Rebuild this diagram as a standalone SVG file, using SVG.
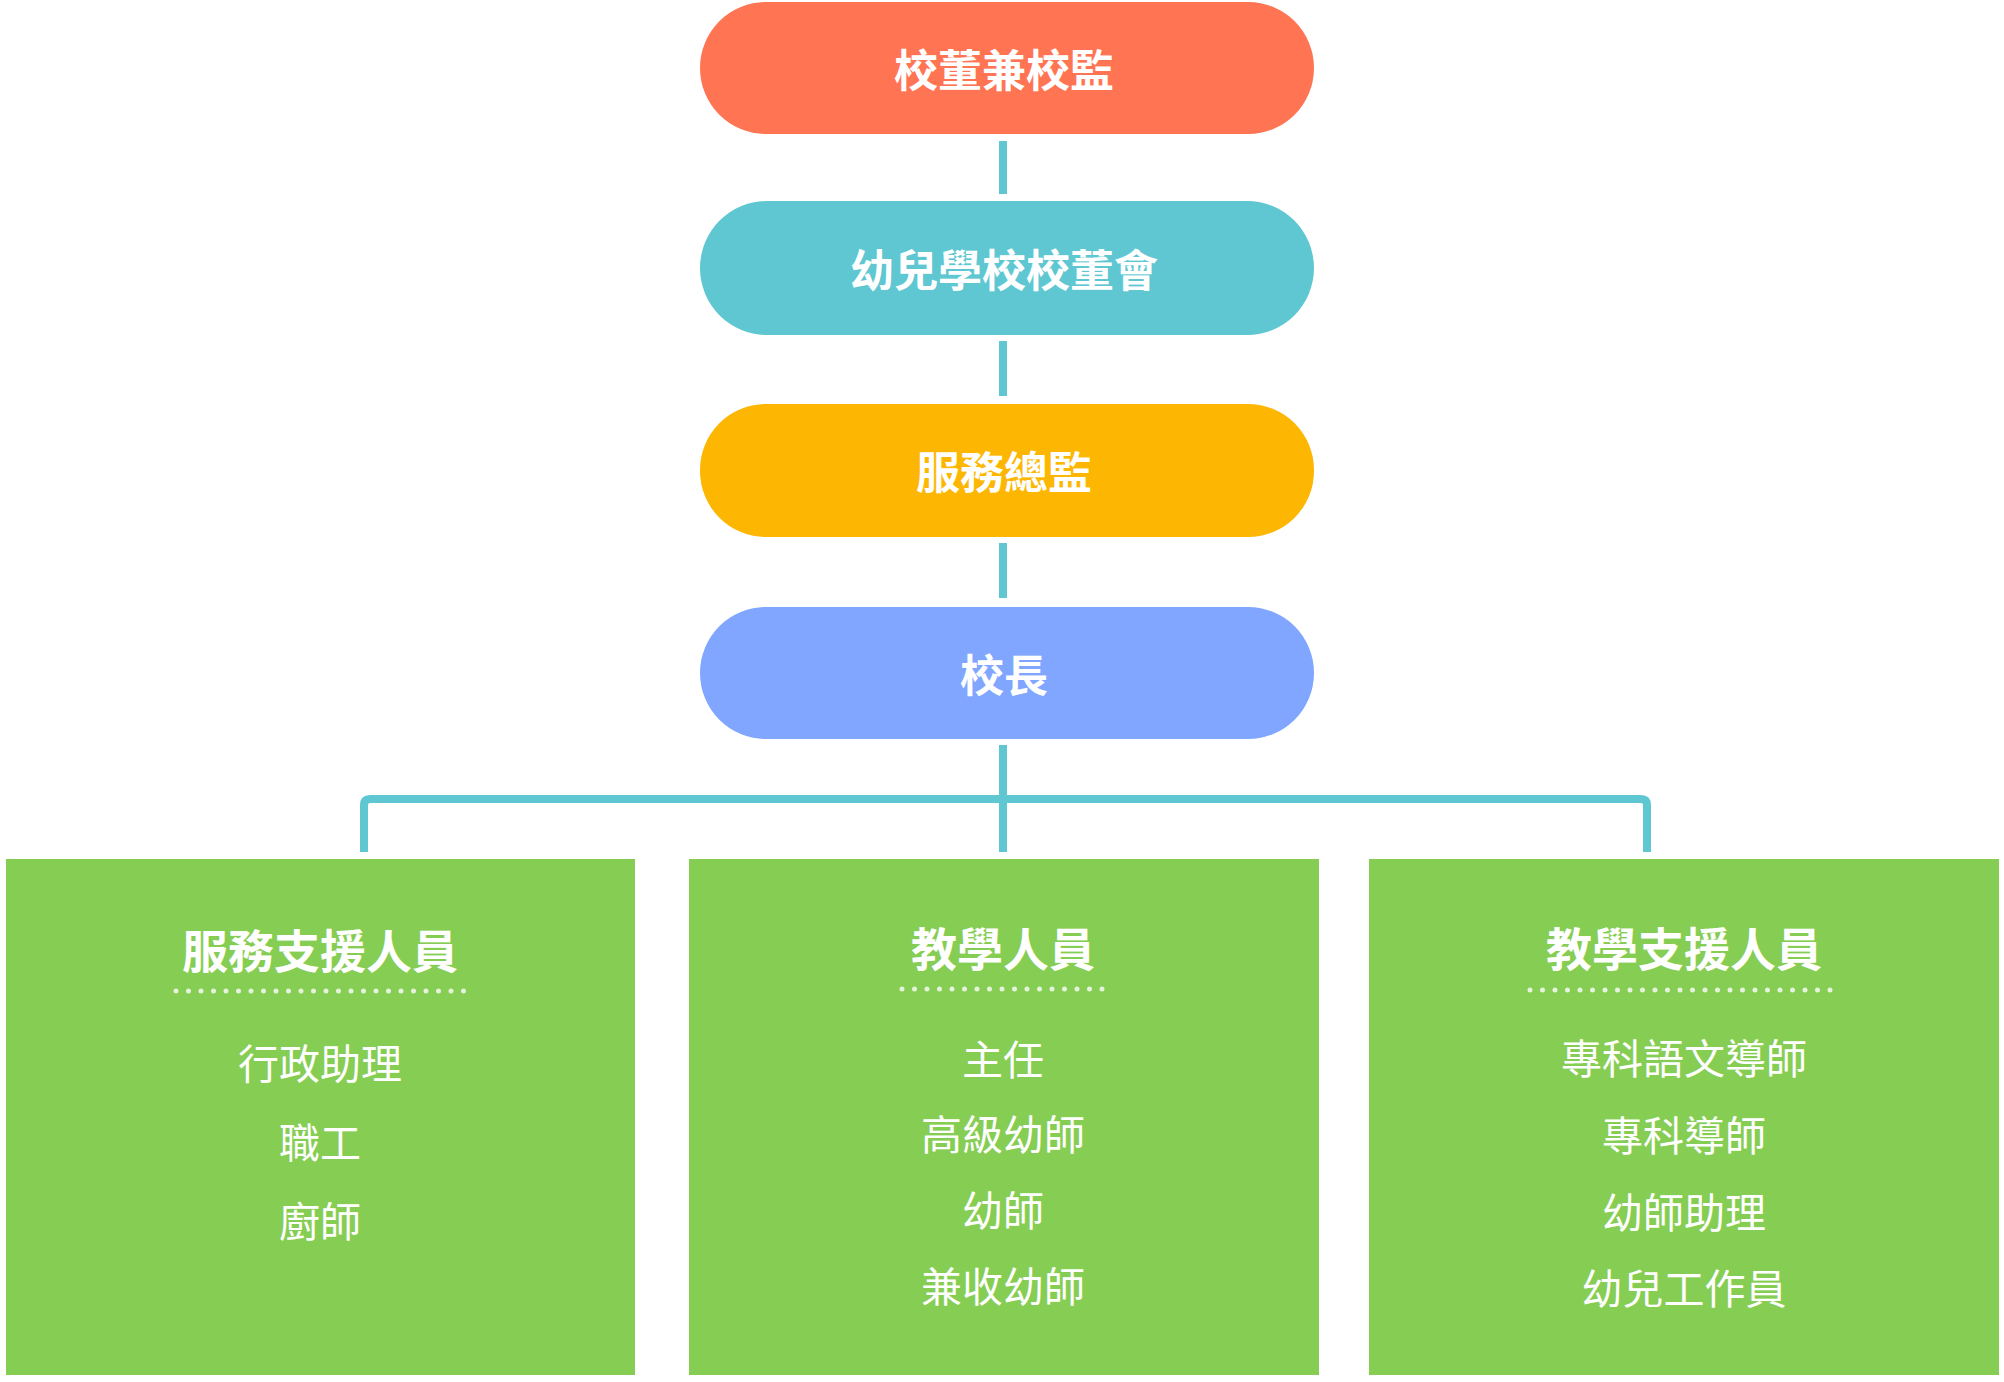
<svg xmlns="http://www.w3.org/2000/svg" width="2004" height="1382" viewBox="0 0 2004 1382">
<style>
.pt{font-family:"Noto Sans CJK TC","Noto Sans CJK SC",sans-serif;font-weight:700;font-size:44px;fill:#fff;text-anchor:middle;dominant-baseline:central}
.hd{font-family:"Noto Sans CJK TC","Noto Sans CJK SC",sans-serif;font-weight:700;font-size:46px;fill:#fff;text-anchor:middle;dominant-baseline:central}
.it{font-family:"Noto Sans CJK TC","Noto Sans CJK SC",sans-serif;font-weight:400;font-size:41px;fill:#fff;text-anchor:middle;dominant-baseline:central}
.c{stroke:#5EC7D2;stroke-width:8;fill:none}
.dot{stroke:#e6f3dc;stroke-width:5;stroke-linecap:round;stroke-dasharray:0 12.5}
.box{fill:#86CD53}
</style>
<rect width="2004" height="1382" fill="#fff"/>
<g id="connectors">
<line class="c" x1="1003" y1="141" x2="1003" y2="194"/>
<line class="c" x1="1003" y1="341" x2="1003" y2="396"/>
<line class="c" x1="1003" y1="543" x2="1003" y2="598"/>
<line class="c" x1="1003" y1="745" x2="1003" y2="852"/>
<path class="c" d="M364 852 V805 Q364 799 370 799 H1641 Q1647 799 1647 805 V852"/>
</g>
<g id="n1"><rect x="700" y="2" width="614" height="132" rx="66" fill="#FF7452"/><text class="pt" x="1004" y="68">校董兼校監</text></g>
<g id="n2"><rect x="700" y="201" width="614" height="134" rx="67" fill="#5EC7D2"/><text class="pt" x="1004" y="268">幼兒學校校董會</text></g>
<g id="n3"><rect x="700" y="404" width="614" height="133" rx="66" fill="#FDB702"/><text class="pt" x="1004" y="470">服務總監</text></g>
<g id="n4"><rect x="700" y="607" width="614" height="132" rx="66" fill="#80A6FF"/><text class="pt" x="1004" y="673">校長</text></g>
<g id="b1"><rect class="box" x="6" y="859" width="629" height="516"/>
<text class="hd" x="320" y="948">服務支援人員</text>
<line class="dot" x1="176" y1="991" x2="464" y2="991"/>
<text class="it" x="320" y="1061">行政助理</text><text class="it" x="320" y="1140">職工</text><text class="it" x="320" y="1219">廚師</text></g>
<g id="b2"><rect class="box" x="689" y="859" width="630" height="516"/>
<text class="hd" x="1003" y="946">教學人員</text>
<line class="dot" x1="902" y1="989" x2="1105" y2="989"/>
<text class="it" x="1003" y="1057">主任</text><text class="it" x="1003" y="1132">高級幼師</text><text class="it" x="1003" y="1208">幼師</text><text class="it" x="1003" y="1284">兼收幼師</text></g>
<g id="b3"><rect class="box" x="1369" y="859" width="630" height="516"/>
<text class="hd" x="1684" y="946">教學支援人員</text>
<line class="dot" x1="1530" y1="990" x2="1831" y2="990"/>
<text class="it" x="1684" y="1056">專科語文導師</text><text class="it" x="1684" y="1133">專科導師</text><text class="it" x="1684" y="1210">幼師助理</text><text class="it" x="1684" y="1286">幼兒工作員</text></g>
</svg>
